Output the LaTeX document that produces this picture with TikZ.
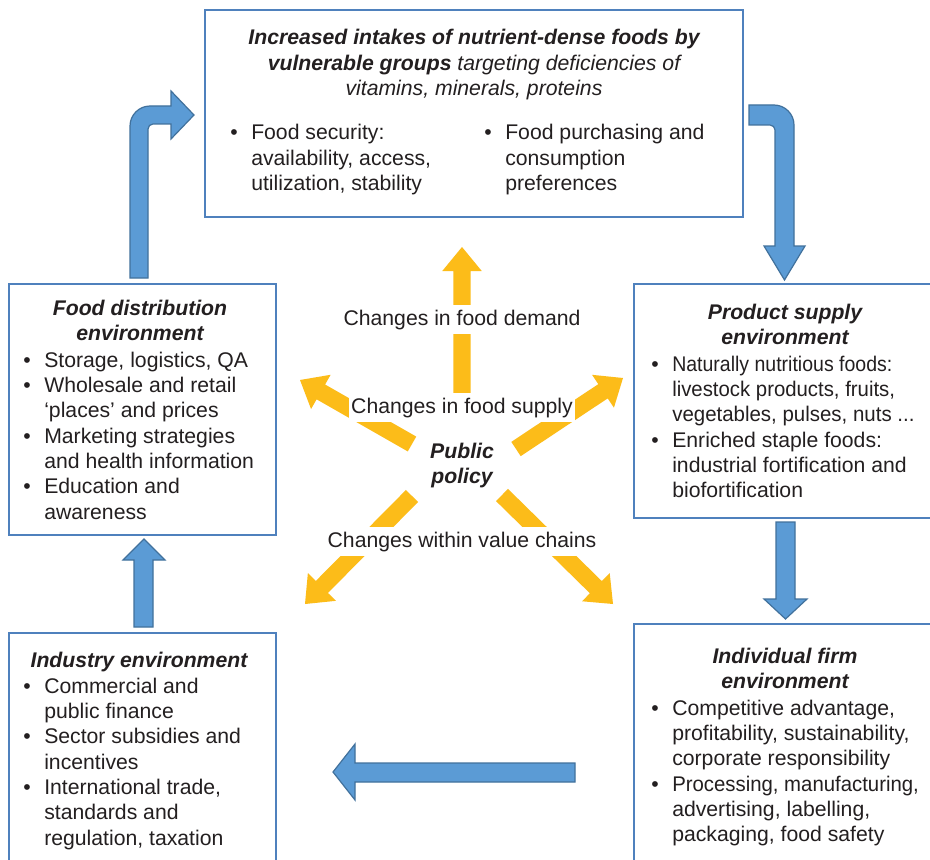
\documentclass[tikz,border=0pt]{standalone}
\usepackage{fontspec}
\setmainfont{Liberation Sans}
\usetikzlibrary{calc}
\definecolor{boxc}{RGB}{79,129,189}
\definecolor{arrfill}{RGB}{91,155,213}
\definecolor{arrline}{RGB}{65,113,156}
\definecolor{yel}{RGB}{252,188,25}
\definecolor{txtc}{RGB}{35,31,32}
\newcommand\bu{\makebox[15.75pt][l]{\textbullet}}
\newcommand\ind{\hspace*{15.75pt}}
\newcommand\bi{\bfseries\itshape}
\newcommand\hs[2]{\scalebox{#1}[1]{#2}}
\newcommand\yarrow[2]{%
  \coordinate (yn) at ($(#2)!18pt!(#1)$);
  \fill[yarr] ($(#1)!6.4pt!90:(#2)$) -- ($(yn)!6.4pt!90:(#2)$) -- ($(yn)!14.8pt!90:(#2)$) -- (#2)
    -- ($(yn)!14.8pt!-90:(#2)$) -- ($(yn)!6.4pt!-90:(#2)$) -- ($(#1)!6.4pt!-90:(#2)$) -- cycle;}
\tikzset{
  box/.style={draw=boxc, line width=1.5pt, fill=white, inner sep=0pt, anchor=north west},
  tx/.style={inner sep=0pt, text=txtc, font=\fontsize{15.9}{19}\selectfont},
  lab/.style={tx, fill=white, inner xsep=2pt, inner ysep=3.5pt, anchor=base},
  blockarrow/.style={fill=arrfill, draw=arrline, line width=0.9pt, line join=miter},
  yarr/.style={fill=yel},
}
\begin{document}
\begin{tikzpicture}[x=0.75pt,y=-0.75pt]
\useasboundingbox (0,0) rectangle (930,859);
\clip (0,0) rectangle (930,859);
\fill[white] (0,0) rectangle (930,859);

% boxes
\node[box, minimum width=403.5pt, minimum height=155.25pt] (top) at (204,9) {};
\node[box, minimum width=200.25pt, minimum height=188.25pt] (fd) at (8,283) {};
\node[box, minimum width=237.75pt, minimum height=175.5pt] (ps) at (633,283) {};
\node[box, minimum width=200.25pt, minimum height=186pt] (ind) at (8,632) {};
\node[box, minimum width=237.75pt, minimum height=192.75pt] (firm) at (633,623) {};

% top box text
\node[tx, anchor=base] (toptitle) at (474,45) {\begin{tabular}[t]{@{}c@{}}{\bi Increased intakes of nutrient-dense foods by}\\ {\bi vulnerable groups} {\itshape targeting deficiencies of}\\ {\itshape vitamins, minerals, proteins}\end{tabular}};
\node[tx, anchor=base west] (topa) at (230,140) {\begin{tabular}[t]{@{}l@{}}\bu Food security:\\ \ind availability, access,\\ \ind utilization, stability\end{tabular}};
\node[tx, anchor=base west] (topb) at (484,140) {\begin{tabular}[t]{@{}l@{}}\bu Food purchasing and\\ \ind consumption\\ \ind preferences\end{tabular}};

% food distribution
\node[tx, anchor=base] (fdtitle) at (140,315) {\begin{tabular}[t]{@{}c@{}}\bi Food distribution\\ \bi environment\end{tabular}};
\node[tx, anchor=base west] (fdlist) at (23,367) {\begin{tabular}[t]{@{}l@{}}\bu Storage, logistics, QA\\ \bu Wholesale and retail\\ \ind ‘places’ and prices\\ \bu Marketing strategies\\ \ind and health information\\ \bu Education and\\ \ind awareness\end{tabular}};

% product supply
\node[tx, anchor=base] (pstitle) at (785,319) {\begin{tabular}[t]{@{}c@{}}\bi Product supply\\ \bi environment\end{tabular}};
\node[tx, anchor=base west] (pslist) at (651,371) {\begin{tabular}[t]{@{}l@{}}\bu \hs{0.92}{Naturally nutritious foods:}\\ \ind \hs{0.96}{livestock products, fruits,}\\ \ind \hs{0.965}{vegetables, pulses, nuts ...}\\ \bu Enriched staple foods:\\ \ind industrial fortification and\\ \ind biofortification\end{tabular}};

% industry
\node[tx, anchor=base] (indtitle) at (139,667) {\bi Industry environment};
\node[tx, anchor=base west] (indlist) at (23,693) {\begin{tabular}[t]{@{}l@{}}\bu Commercial and\\ \ind public finance\\ \bu Sector subsidies and\\ \ind incentives\\ \bu International trade,\\ \ind standards and\\ \ind regulation, taxation\end{tabular}};

% individual firm
\node[tx, anchor=base] (firmtitle) at (785,663) {\begin{tabular}[t]{@{}c@{}}\bi Individual firm\\ \bi environment\end{tabular}};
\node[tx, anchor=base west] (firmlist) at (651,715) {\begin{tabular}[t]{@{}l@{}}\bu Competitive advantage,\\ \ind profitability, sustainability,\\ \ind corporate responsibility\\ \bu \hs{0.96}{Processing, manufacturing,}\\ \ind advertising, labelling,\\ \ind packaging, food safety\end{tabular}};

% blue block arrows
\filldraw[blockarrow] (130,278) -- (130,126) .. controls (130,115) and (139,106) .. (150,106) -- (171,106) -- (171,91) -- (194,115) -- (171,139) -- (171,124) -- (153,124) .. controls (150.2,124) and (148,126.2) .. (148,129) -- (148,278) -- cycle;
\filldraw[blockarrow] (749,105) -- (774,105) .. controls (785,105) and (794,114) .. (794,125) -- (794,246) -- (805,246) -- (784.5,280) -- (764,246) -- (775,246) -- (775,130) .. controls (775,127.2) and (772.8,125) .. (770,125) -- (749,125) -- cycle;
\filldraw[blockarrow] (134,627) -- (134,560) -- (123,560) -- (144,539) -- (165,560) -- (153,560) -- (153,627) -- cycle;
\filldraw[blockarrow] (776,522) -- (795,522) -- (795,599) -- (807,599) -- (785.5,619) -- (764,599) -- (776,599) -- cycle;
\filldraw[blockarrow] (575,763) -- (355,763) -- (355,744) -- (333,772) -- (355,800) -- (355,782) -- (575,782) -- cycle;

% yellow arrows
\coordinate (upT) at (462,393); \coordinate (upH) at (462,247);
\coordinate (ulT) at (412,444); \coordinate (ulH) at (300,380);
\coordinate (urT) at (516,449); \coordinate (urH) at (623,378);
\coordinate (llT) at (412,496); \coordinate (llH) at (305,604);
\coordinate (lrT) at (502,495); \coordinate (lrH) at (613,604);
\yarrow{upT}{upH}
\yarrow{ulT}{ulH}
\yarrow{urT}{urH}
\yarrow{llT}{llH}
\yarrow{lrT}{lrH}

% labels
\node[lab] (demand) at (462,325) {Changes in food demand};
\node[lab] (supply) at (462,413) {Changes in food supply};
\node[lab] (chains) at (462,547) {Changes within value chains};
\node[tx, anchor=base] (policy) at (462,458) {\begin{tabular}[t]{@{}c@{}}\bi Public\\ \bi policy\end{tabular}};
\end{tikzpicture}
\end{document}
